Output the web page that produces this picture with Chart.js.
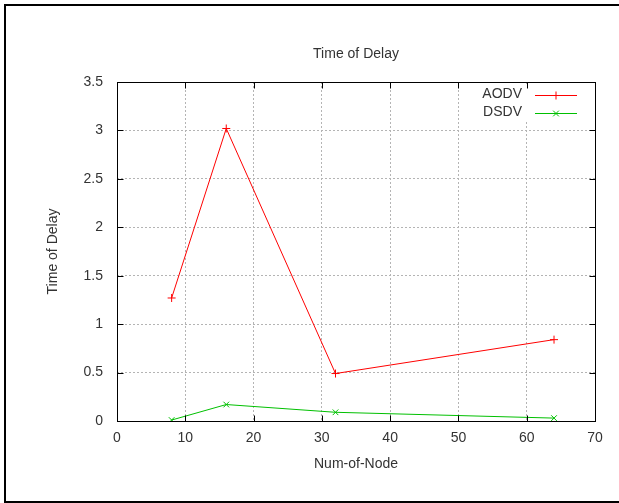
<!DOCTYPE html>
<html>
<head>
<meta charset="utf-8">
<title>Time of Delay</title>
<script src="https://cdn.jsdelivr.net/npm/chart.js@4.4.0/dist/chart.umd.min.js"></script>
<style>
    html, body { margin: 0; padding: 0; background: #fff; }
    #wrap  { position: relative; width: 619px; height: 503px; }
    #delay { position: absolute; left: 0; top: 0; }
    #frame {
        position: absolute; left: 4px; top: 4px; width: 615px; height: 499px;
        box-sizing: border-box; pointer-events: none;
        border-top: 2px solid #000; border-left: 2px solid #000; border-bottom: 2px solid #000;
    }
</style>
</head>
<body>
<div id="wrap">
    <canvas id="delay" width="619" height="503"></canvas>
    <div id="frame"></div>
</div>
<script>
"use strict";

var chartTitle  = "Time of Delay";
var xAxisTitle  = "Num-of-Node";
var yAxisTitle  = "Time of Delay";
var seriesNames = [ "AODV", "DSDV" ];
var nodeCounts  = [ 8, 16, 32, 64 ];
var aodvDelay   = [ 1.27, 3.02, 0.49, 0.84 ];
var dsdvDelay   = [ 0.01, 0.17, 0.09, 0.03 ];
var xTickValues = [ 0, 10, 20, 30, 40, 50, 60, 70 ];
var yTickValues = [ 0, 0.5, 1, 1.5, 2, 2.5, 3, 3.5 ];
var yTickLabels = [ "0", "0.5", "1", "1.5", "2", "2.5", "3", "3.5" ];

var lineColors  = [ "#ff0000", "#00c000" ];
var textColor   = "#333";
var fontFamily  = "'Liberation Sans', Arial, sans-serif";

var toPoints = function (ys) {
    return nodeCounts.map(function (n, i) { return { x: n, y: ys[ i ] }; });
};

// gnuplot look: title over the plot, full frame, mirrored inward tics, opaque key
var gnuplotLook = {
    id: "gnuplotLook",
    afterDatasetsDraw: function (chart) {
        var ctx = chart.ctx, a = chart.chartArea;
        var xs = chart.scales.x, ys = chart.scales.y;
        ctx.save();

        // title, centred on the plot area
        ctx.font = "14px " + fontFamily;
        ctx.fillStyle = textColor;
        ctx.textAlign = "center";
        ctx.textBaseline = "middle";
        ctx.fillText(chartTitle, (a.left + a.right) / 2, 54);

        // key
        ctx.fillStyle = "#fff";
        ctx.fillRect(a.right - 125, a.top + 4, 120, 34);
        ctx.textAlign = "right";
        chart.data.datasets.forEach(function (ds, i) {
            var y = Math.round(a.top + 13 + i * 17.5) + 0.5;
            ctx.fillStyle = textColor;
            ctx.fillText(ds.label, a.right - 73, y - 1);
            ctx.strokeStyle = lineColors[ i ];
            ctx.fillStyle = lineColors[ i ];
            ctx.lineWidth = 1;
            ctx.setLineDash([]);
            ctx.beginPath();
            ctx.moveTo(a.right - 60, y);
            ctx.lineTo(a.right - 18, y);
            ctx.stroke();
            Chart.helpers.drawPoint(ctx, {
                pointStyle : ds.pointStyle,
                radius     : ds.pointRadius,
                rotation   : 0,
                borderWidth: 1
            }, a.right - 39, y);
        });

        // frame
        ctx.strokeStyle = "#000";
        ctx.lineWidth = 1;
        var l = Math.round(a.left) + 0.5, r = Math.round(a.right) + 0.5;
        var t = Math.round(a.top) + 0.5, b = Math.round(a.bottom) + 0.5;
        ctx.strokeRect(l, t, r - l, b - t);

        // tics
        ctx.beginPath();
        xTickValues.forEach(function (v) {
            var px = Math.round(xs.getPixelForValue(v)) + 0.5;
            ctx.moveTo(px, b); ctx.lineTo(px, b - 6);
            ctx.moveTo(px, t); ctx.lineTo(px, t + 6);
        });
        yTickValues.forEach(function (v) {
            var py = Math.round(ys.getPixelForValue(v)) + 0.5;
            ctx.moveTo(l, py); ctx.lineTo(l + 6, py);
            ctx.moveTo(r, py); ctx.lineTo(r - 6, py);
        });
        ctx.stroke();
        ctx.restore();
    }
};

Chart.defaults.font.family = fontFamily;
Chart.defaults.font.size = 14;
Chart.defaults.color = textColor;

new Chart(document.getElementById("delay"), {
    type   : "line",
    data   : {
        datasets: [ {
            label           : seriesNames[ 0 ],
            data            : toPoints(aodvDelay),
            borderColor     : lineColors[ 0 ],
            backgroundColor : lineColors[ 0 ],
            borderWidth     : 1,
            pointStyle      : "cross",
            pointRadius     : 4,
            pointBorderWidth: 1,
            tension         : 0,
            fill            : false
        }, {
            label           : seriesNames[ 1 ],
            data            : toPoints(dsdvDelay),
            borderColor     : lineColors[ 1 ],
            backgroundColor : lineColors[ 1 ],
            borderWidth     : 1,
            pointStyle      : "crossRot",
            pointRadius     : 4,
            pointBorderWidth: 1,
            tension         : 0,
            fill            : false
        } ]
    },
    plugins: [ gnuplotLook ],
    options: {
        responsive: false,
        animation : false,
        layout    : { padding: { left: 0, top: 82, right: 24, bottom: 0 } },
        plugins   : {
            legend : { display: false },
            tooltip: { enabled: false },
            title  : { display: false }
        },
        scales    : {
            x: {
                type  : "linear",
                min   : 0,
                max   : 70,
                afterBuildTicks: function (scale) {
                    scale.ticks = xTickValues.map(function (v) { return { value: v }; });
                },
                afterFit: function (scale) { scale.height = 82; },
                ticks : { padding: 9, color: textColor },
                grid  : { color: "#b4b4b4", drawTicks: false },
                border: { display: false, dash: [ 2, 2 ] },
                title : {
                    display: true,
                    text   : xAxisTitle,
                    color  : textColor,
                    padding: { top: 0, bottom: 30 }
                }
            },
            y: {
                min   : 0,
                max   : 3.5,
                afterBuildTicks: function (scale) {
                    scale.ticks = yTickValues.map(function (v) { return { value: v }; });
                },
                afterFit: function (scale) { scale.width = 117; },
                ticks : {
                    padding : 14,
                    color   : textColor,
                    callback: function (value, index) { return yTickLabels[ index ]; }
                },
                grid  : { color: "#b4b4b4", drawTicks: false },
                border: { display: false, dash: [ 2, 2 ] },
                title : {
                    display: true,
                    text   : yAxisTitle,
                    color  : textColor,
                    padding: { top: 45, bottom: 0 }
                }
            }
        }
    }
});
</script>
</body>
</html>
